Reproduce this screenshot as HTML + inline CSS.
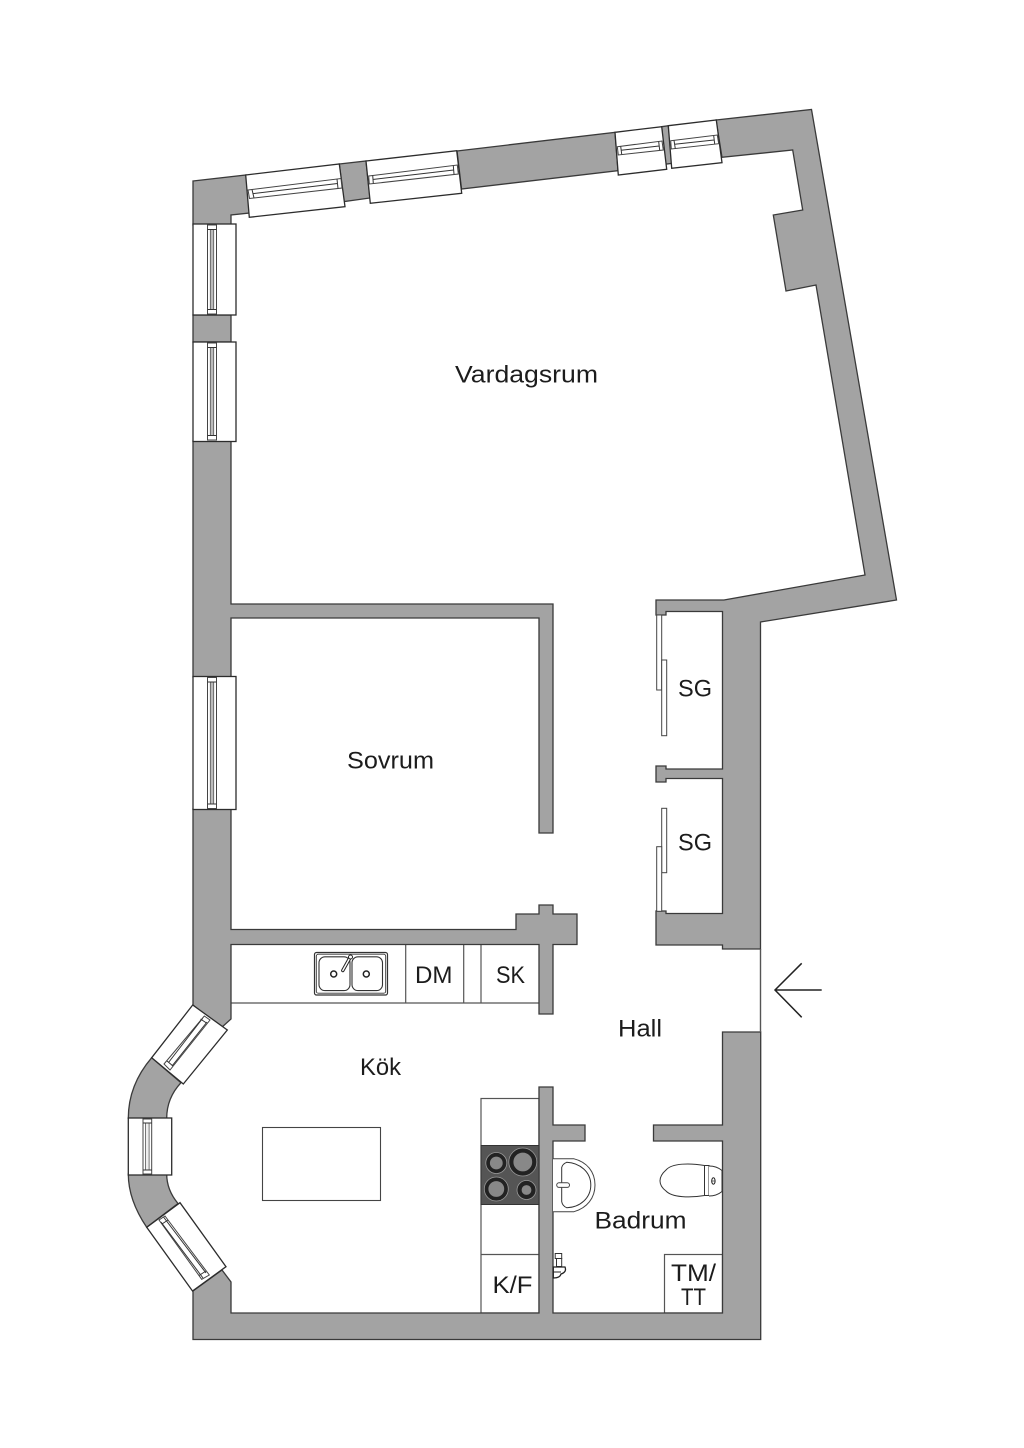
<!DOCTYPE html>
<html><head><meta charset="utf-8"><style>
html,body{margin:0;padding:0;background:#fff}
svg{display:block}
text{font-family:"Liberation Sans",sans-serif;font-size:24.5px;fill:#1c1c1c}
.w{fill:#a3a3a3;stroke:#3a3a3a;stroke-width:1.3;stroke-linejoin:miter}
.g{fill:#fff;stroke:#2c2c2c;stroke-width:1.3}
.s{fill:#fff;stroke:#444;stroke-width:1}
.l{fill:none;stroke:#555;stroke-width:1.2}
.t{fill:none;stroke:#333;stroke-width:1}
.b1{fill:#222;stroke:#999;stroke-width:.8}
.b2{fill:#888;stroke:#222;stroke-width:1.2}
</style></head><body>
<svg xmlns="http://www.w3.org/2000/svg" width="1024" height="1448" viewBox="0 0 1024 1448">
<rect width="1024" height="1448" fill="#fff"/>
<!-- fixtures under walls -->
<rect class="l" x="481" y="1098.5" width="58" height="214.5"/>
<rect class="l" x="664.5" y="1254.5" width="58" height="58.5"/>
<line class="l" x1="481" y1="1254.5" x2="539" y2="1254.5"/>
<line class="l" x1="231" y1="1003" x2="539" y2="1003"/>
<line class="l" x1="405.7" y1="944" x2="405.7" y2="1003"/>
<line class="l" x1="463.7" y1="944" x2="463.7" y2="1003"/>
<line class="l" x1="481" y1="944" x2="481" y2="1003"/>
<rect x="262.5" y="1127.5" width="118" height="73" fill="#fff" stroke="#444" stroke-width="1.1"/>
<!-- walls -->
<polygon class="w" points="193,181 246,175 249.3,213 231,215 231,225 193,225"/>
<polygon class="w" points="193,315 231,315 231,342 193,342"/>
<polygon class="w" points="193,441 231,441 231,604 553,604 553,833 539,833 539,618 231,618 231,677 193,677"/>
<polygon class="w" points="193,809 231,809 231,929.5 516,929.5 516,914 539,914 539,905 553,905 553,914 577,914 577,944.5 553,944.5 553,1014 539,1014 539,944.5 231,944.5 231,1019 221,1028 193,1005"/>
<path class="w" d="M151.7,1057.7 Q128.3,1085 128.3,1118.3 L166.7,1118.3 Q166.7,1098 181,1082.7 Z"/>
<path class="w" d="M128.3,1174 Q128.3,1200 146.7,1227.3 L178,1203.5 Q166.7,1190 166.7,1174 Z"/>
<polygon class="w" points="193,1291 222,1270 231,1282 231,1313 539,1313 539,1087 553,1087 553,1125 585,1125 585,1141 553,1141 553,1313 722.5,1313 722.5,1141 653.5,1141 653.5,1125 722.5,1125 722.5,1032 760.7,1032 760.7,1339.5 193,1339.5"/>
<polygon class="w" points="716,120 811.5,109.5 896.5,600 760.5,622 760.5,949 722.5,949 722.5,945 656,945 656,911 666,911 666,913.5 722.5,913.5 722.5,778.5 666,778.5 666,782 656,782 656,766 666,766 666,769 722.5,769 722.5,611.5 666,611.5 666,615 656,615 656,600 724,600 865,575 816,285 786,291 773.3,215 802.7,210 792.7,150 722,157.3"/>
<polygon class="w" points="457,151 615,132.3 618,170.7 461.5,189"/>
<polygon class="w" points="339.3,164 366,161 370,198 343.7,201.7"/>
<polygon class="w" points="661.7,126.7 668.3,125.7 672.3,163.3 665,164.3"/>
<line x1="760.5" y1="949" x2="760.5" y2="1032" stroke="#555" stroke-width="1.4"/>
<!-- top windows -->
<polygon class="g" points="245.7,175 339.3,164 345,206.7 249.3,217.3"/>
<polygon class="s" points="248,190 341,178.5 342,188 249.5,198.5"/>
<path class="t" d="M252,189.5 L254,198 M337,179 L338,188.5 M252.5,193.7 L337.5,183.5"/>
<polygon class="g" points="366,161 456.7,150.7 461.7,193.3 370.3,203.3"/>
<polygon class="s" points="368.7,176 457.3,165 458.3,174 369.3,184"/>
<path class="t" d="M372.7,175.3 L373.3,183.3 M453.3,165.7 L454,174 M372.7,179.5 L453.7,170"/>
<polygon class="g" points="615,132.3 661.7,126.7 666.7,169.3 618.3,175"/>
<polygon class="s" points="617.3,146.7 662,141 663.3,150 618.3,155"/>
<path class="t" d="M620.7,146.3 L621.7,154.3 M658.7,141.7 L659.7,150.3 M621,150.3 L659,146"/>
<polygon class="g" points="668.3,125.7 716.3,120 722,162.7 671.7,168.3"/>
<polygon class="s" points="670.7,140.7 717.3,135 718.7,143.7 671.3,149"/>
<path class="t" d="M674,140.3 L675.3,148.7 M713.7,135.7 L714.7,144 M674.7,144.3 L714,140"/>
<!-- left windows -->
<g>
<rect class="g" x="193" y="224" width="43" height="91"/>
<rect class="s" x="207.5" y="225" width="9" height="89"/>
<rect x="210.3" y="229.5" width="3.4" height="80" fill="#bbb" stroke="#555" stroke-width=".8"/>
<path class="t" d="M207.5,229.5 H216.5 M207.5,309.5 H216.5"/>
<rect class="g" x="193" y="342" width="43" height="99.5"/>
<rect class="s" x="207.5" y="343" width="9" height="97"/>
<rect x="210.3" y="347.5" width="3.4" height="88" fill="#bbb" stroke="#555" stroke-width=".8"/>
<path class="t" d="M207.5,347.5 H216.5 M207.5,435.5 H216.5"/>
<rect class="g" x="193" y="676.5" width="43" height="133"/>
<rect class="s" x="207.5" y="677.5" width="9" height="131"/>
<rect x="210.3" y="682" width="3.4" height="122" fill="#bbb" stroke="#555" stroke-width=".8"/>
<path class="t" d="M207.5,682 H216.5 M207.5,804 H216.5"/>
</g>
<!-- bay windows -->
<polygon class="g" points="192.7,1005 227.3,1030 183.3,1084 151.7,1057.7"/>
<polygon class="s" points="210,1020 204.3,1016 164,1064 170,1070"/>
<path class="t" d="M206.5,1023 L200.5,1019 M167,1061 L173,1066 M202.5,1018.5 L168.5,1062.5 M207,1022 L172,1066"/>
<rect class="g" x="128.3" y="1118" width="43.4" height="57"/>
<rect class="s" x="143" y="1119" width="8.7" height="55"/>
<rect x="145.5" y="1123" width="3.6" height="47" fill="#eee" stroke="#555" stroke-width=".8"/>
<path class="t" d="M143,1123 H151.7 M143,1170 H151.7"/>
<polygon class="g" points="146.7,1227.3 180,1202.7 226,1266.7 192.5,1291"/>
<polygon class="s" points="159,1220 165,1216 209.3,1275 201.7,1279.3"/>
<path class="t" d="M162,1224 L168,1220 M199,1275.5 L206,1271 M163.5,1217 L206,1273 M161,1222 L203,1278"/>
<!-- closet doors -->
<rect class="s" x="656.7" y="615" width="5" height="75"/>
<rect class="s" x="661.7" y="660" width="5" height="75.7"/>
<rect class="s" x="661.7" y="808.3" width="5" height="64.4"/>
<rect class="s" x="656.7" y="846.7" width="5" height="64.6"/>
<!-- sink -->
<rect x="314.5" y="952.5" width="73" height="42.5" rx="2" fill="#fff" stroke="#333" stroke-width="1.2"/>
<rect x="316.3" y="954.2" width="69.4" height="39" rx="2" fill="#fff" stroke="#333" stroke-width=".9"/>
<rect x="319" y="956.8" width="31" height="33.8" rx="6" fill="#fff" stroke="#333" stroke-width="1.1"/>
<rect x="352" y="956.8" width="30.5" height="33.8" rx="6" fill="#fff" stroke="#333" stroke-width="1.1"/>
<circle cx="333.7" cy="974" r="3" fill="#fff" stroke="#222" stroke-width="1.5"/>
<circle cx="366.3" cy="974" r="3" fill="#fff" stroke="#222" stroke-width="1.5"/>
<line x1="342.8" y1="970.5" x2="349.8" y2="958" stroke="#222" stroke-width="3.4" stroke-linecap="round"/>
<line x1="342.8" y1="970.5" x2="349.8" y2="958" stroke="#fff" stroke-width="1.4" stroke-linecap="round"/>
<circle cx="350.5" cy="957" r="2" fill="#fff" stroke="#222" stroke-width="1"/>
<!-- stove -->
<rect x="481" y="1145.5" width="58" height="59" fill="#555" stroke="#333" stroke-width="1"/>
<circle class="b1" cx="496.3" cy="1163" r="10.5"/><circle class="b2" cx="496.3" cy="1163" r="7"/>
<circle class="b1" cx="522.8" cy="1162" r="14"/><circle class="b2" cx="522.8" cy="1162" r="10"/>
<circle class="b1" cx="496.3" cy="1189" r="12"/><circle class="b2" cx="496.3" cy="1189" r="8.5"/>
<circle class="b1" cx="526.5" cy="1190" r="9.5"/><circle class="b2" cx="526.5" cy="1190" r="5.5"/>
<!-- basin -->
<path d="M553,1158.8 H574 C587,1162 595,1172 595,1185 C595,1198 587,1208 574,1211.7 H553" fill="#fff" stroke="#444" stroke-width="1"/>
<path d="M561.7,1167.5 Q562.5,1164 566.7,1162.3 C580,1163 590.8,1172 590.8,1185 C590.8,1198 580,1207.5 566.7,1207.7 Q562.5,1206 561.7,1201.7 Z" fill="#fff" stroke="#333" stroke-width="1"/>
<rect x="556.7" y="1182.8" width="12.8" height="4.6" rx="2.3" fill="#fff" stroke="#444" stroke-width="1"/>
<!-- toilet -->
<path d="M704.5,1165.5 C690,1163 672,1163 666,1170 C658,1177 658,1185 666,1191 C672,1197.5 690,1198 704.5,1195.5 Z" fill="#fff" stroke="#333" stroke-width="1"/>
<path d="M704.5,1165.5 H709 V1195.5 H704.5 Z" fill="#fff" stroke="#333" stroke-width="1"/>
<path d="M709,1166 C715,1166 719,1168 722,1170.5 V1191.5 C719,1194 715,1196 709,1196" fill="#fff" stroke="#333" stroke-width="1"/>
<ellipse cx="713.4" cy="1181" rx="1.7" ry="3.2" fill="#fff" stroke="#222" stroke-width="1"/>
<line x1="711.7" y1="1181" x2="715.1" y2="1181" stroke="#222" stroke-width=".7"/>
<!-- shower tap -->
<rect x="555.2" y="1253.5" width="6.5" height="5" fill="#fff" stroke="#333" stroke-width="1"/>
<rect x="556.5" y="1258.5" width="5.2" height="8" fill="#fff" stroke="#333" stroke-width="1"/>
<path d="M553.3,1267 H565 Q567,1272 561,1274 Q560,1278 553.3,1278 Z" fill="#fff" stroke="#222" stroke-width="1.3"/>
<line x1="553.3" y1="1272" x2="561" y2="1272" stroke="#222" stroke-width="1"/>
<!-- arrow -->
<path d="M821.7,990 H775 M801.7,963.3 L775,990 L801.7,1017.3" fill="none" stroke="#222" stroke-width="1.5"/>
<!-- labels -->
<text x="455" y="382.5" textLength="143" lengthAdjust="spacingAndGlyphs">Vardagsrum</text>
<text x="347" y="768.5" textLength="87" lengthAdjust="spacingAndGlyphs">Sovrum</text>
<text x="678" y="696.5" textLength="34" lengthAdjust="spacingAndGlyphs">SG</text>
<text x="678" y="850.5" textLength="34" lengthAdjust="spacingAndGlyphs">SG</text>
<text x="618" y="1036.5" textLength="44" lengthAdjust="spacingAndGlyphs">Hall</text>
<text x="360" y="1075" textLength="41" lengthAdjust="spacingAndGlyphs">Kök</text>
<text x="415" y="983" textLength="37.5" lengthAdjust="spacingAndGlyphs">DM</text>
<text x="496" y="983" textLength="29" lengthAdjust="spacingAndGlyphs">SK</text>
<text x="594.5" y="1228.5" textLength="92" lengthAdjust="spacingAndGlyphs">Badrum</text>
<text x="492.5" y="1293" textLength="40" lengthAdjust="spacingAndGlyphs">K/F</text>
<text x="671" y="1281" textLength="45" lengthAdjust="spacingAndGlyphs">TM/</text>
<text x="681" y="1305" textLength="25" lengthAdjust="spacingAndGlyphs">TT</text>
</svg>
</body></html>
